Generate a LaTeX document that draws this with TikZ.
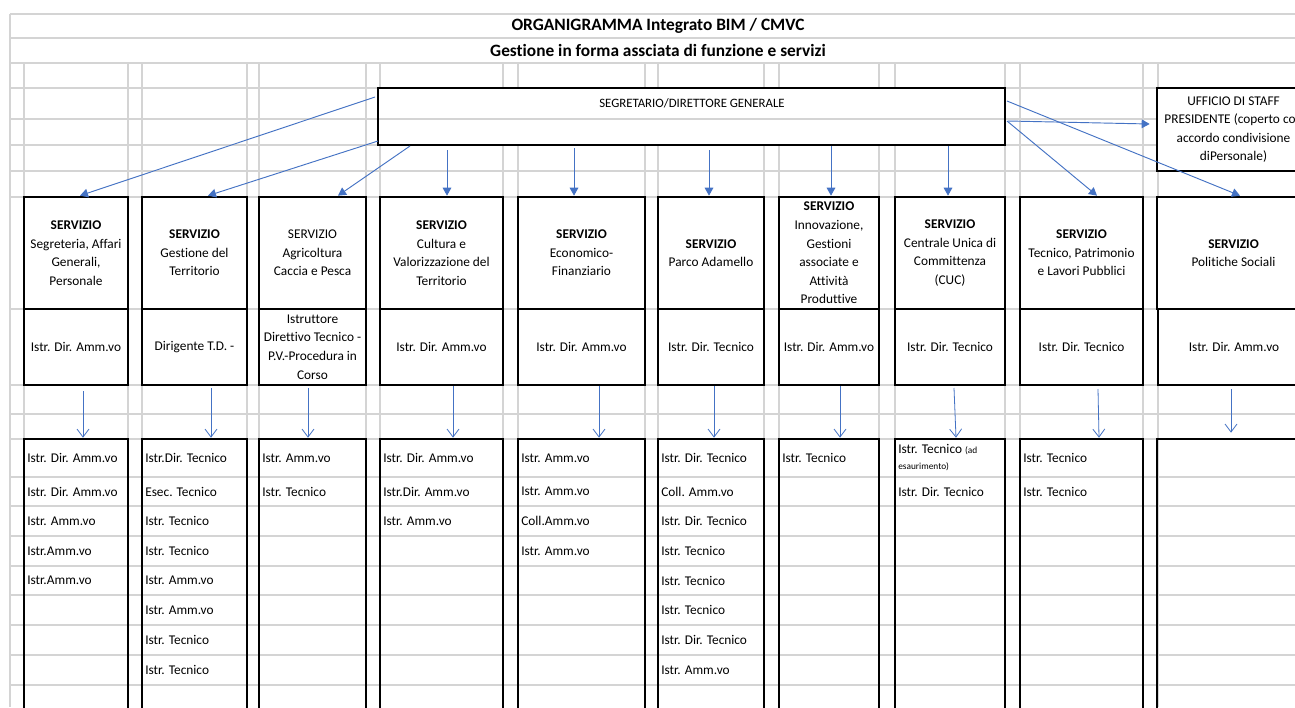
\documentclass[tikz,border=0pt]{standalone}
\usepackage{fontspec}
\setmainfont{Carlito}[Ligatures=NoCommon]
\usetikzlibrary{arrows.meta,calc}
\definecolor{gridc}{RGB}{212,212,212}
\definecolor{arr}{RGB}{68,114,196}
\newcommand\cellbox[7]{\node[#6,minimum width={(#4-#2)*0.75pt},minimum height={(#5-#3)*0.75pt}] (#1) at ({(#2+#4)/2},{(#3+#5)/2}) {#7};}
\newcommand\listcol[3]{%
  \foreach \t [count=\i] in {#3} {%
    \pgfmathsetmacro\yy{{458,491.5,521,551,580.5,610,640,670}[\i-1]}%
    \node[entry] (#1-\i) at (#2+3,\yy) {\t};
  }}
\begin{document}
\begin{tikzpicture}[x=0.75pt,y=-0.75pt,
  font=\fontsize{10}{13.9}\selectfont,
  gridline/.style={draw=gridc,line width=0.8pt},
  svcbox/.style={draw=black,line width=2pt,fill=white,inner sep=0pt,align=center},
  dirbox/.style={draw=black,line width=1.1pt,fill=white,inner sep=0pt,align=center},
  listbox/.style={draw=black,line width=2pt,inner sep=0pt},
  topbox/.style={draw=black,line width=1.6pt,fill=white,inner sep=0pt,align=center},
  entry/.style={anchor=west,inner sep=0pt},
  titletext/.style={font=\fontsize{13}{15}\selectfont\bfseries,inner sep=0pt},
  toparrow/.style={draw=arr,line width=0.7pt,-{Triangle[length=6pt,width=6.5pt]}},
  lowarrow/.style={draw=arr,line width=0.6pt,-{Straight Barb[length=6pt,width=9pt,line width=0.6pt]}}
]
\useasboundingbox (0,0) rectangle (1295,707);
\clip (0,0) rectangle (1295,707);
\fill[white] (0,0) rectangle (1295,707);
% grid
\foreach \y in {14,38,63,88,119,145,171,197,309,385,414,439,477,506,536,566,595,625,655,685}
  \draw[gridline] (10,\y) -- (1295,\y);
\draw[gridline] (10,14) -- (10,707);
\foreach \x in {24,128,142,247,259,366,380,503,518,645,658,764,779,879,895,1005,1020,1143,1158}
  \draw[gridline] (\x,63) -- (\x,707);
% titles
\node[titletext] (title) at (658,26) {ORGANIGRAMMA Integrato BIM / CMVC};
\node[titletext] (subtitle) at (658,50) {Gestione in forma assciata di funzione e servizi};
% top boxes
\cellbox{seg}{378}{88}{1005}{145}{topbox}{}
\draw[gridline] (379,119) -- (1004,119);
\node[inner sep=0pt,font=\fontsize{9.6}{12}\selectfont] (segT) at (692,103) {SEGRETARIO/DIRETTORE GENERALE};
\cellbox{uff}{1157}{88}{1310}{171}{svcbox}{UFFICIO DI STAFF\\PRESIDENTE (coperto con\\accordo condivisione\\diPersonale)}
% service boxes
\cellbox{s1}{24}{197}{128}{309}{svcbox}{\textbf{SERVIZIO}\\Segreteria, Affari\\Generali,\\Personale}
\cellbox{s2}{142}{197}{247}{309}{svcbox}{\textbf{SERVIZIO}\\Gestione del\\Territorio}
\cellbox{s3}{259}{197}{366}{309}{svcbox}{SERVIZIO\\Agricoltura\\Caccia e Pesca}
\cellbox{s4}{380}{197}{503}{309}{svcbox}{\textbf{SERVIZIO}\\Cultura e\\Valorizzazione del\\Territorio}
\cellbox{s5}{518}{197}{645}{309}{svcbox}{\textbf{SERVIZIO}\\Economico-\\Finanziario}
\cellbox{s6}{658}{197}{764}{309}{svcbox}{\textbf{SERVIZIO}\\Parco Adamello}
\cellbox{s7}{779}{197}{879}{309}{svcbox}{\textbf{SERVIZIO}\\Innovazione,\\Gestioni\\associate e\\Attività\\Produttive}
\cellbox{s8}{895}{197}{1005}{309}{svcbox}{\textbf{SERVIZIO}\\Centrale Unica di\\Committenza\\(CUC)}
\cellbox{s9}{1020}{197}{1143}{309}{svcbox}{\textbf{SERVIZIO}\\Tecnico, Patrimonio\\e Lavori Pubblici}
\cellbox{s10}{1157}{197}{1310}{309}{svcbox}{\textbf{SERVIZIO}\\Politiche Sociali}
% director row
\cellbox{d1}{24}{309}{128}{385}{dirbox}{Istr. Dir. Amm.vo}
\cellbox{d2}{142}{309}{247}{385}{dirbox}{Dirigente T.D. -}
\cellbox{d3}{259}{309}{366}{385}{dirbox}{Istruttore\\Direttivo Tecnico -\\P.V.-Procedura in\\Corso}
\cellbox{d4}{380}{309}{503}{385}{dirbox}{Istr. Dir. Amm.vo}
\cellbox{d5}{518}{309}{645}{385}{dirbox}{Istr. Dir. Amm.vo}
\cellbox{d6}{658}{309}{764}{385}{dirbox}{Istr. Dir. Tecnico}
\cellbox{d7}{779}{309}{879}{385}{dirbox}{Istr. Dir. Amm.vo}
\cellbox{d8}{895}{309}{1005}{385}{dirbox}{Istr. Dir. Tecnico}
\cellbox{d9}{1020}{309}{1143}{385}{dirbox}{Istr. Dir. Tecnico}
\cellbox{d10}{1158}{309}{1310}{385}{dirbox}{Istr. Dir. Amm.vo}
% list boxes
\cellbox{l1}{24}{439}{128}{725}{listbox}{}
\cellbox{l2}{142}{439}{247}{725}{listbox}{}
\cellbox{l3}{259}{439}{366}{725}{listbox}{}
\cellbox{l4}{380}{439}{503}{725}{listbox}{}
\cellbox{l5}{518}{439}{645}{725}{listbox}{}
\cellbox{l6}{658}{439}{764}{725}{listbox}{}
\cellbox{l7}{779}{439}{879}{725}{listbox}{}
\cellbox{l8}{895}{439}{1005}{725}{listbox}{}
\cellbox{l9}{1020}{439}{1143}{725}{listbox}{}
\cellbox{l10}{1157}{439}{1310}{725}{listbox}{}
% list entries
\listcol{e1}{24}{Istr. Dir. Amm.vo,Istr. Dir. Amm.vo,Istr. Amm.vo,Istr.Amm.vo,Istr.Amm.vo}
\listcol{e2}{142}{Istr.Dir. Tecnico,Esec. Tecnico,Istr. Tecnico,Istr. Tecnico,Istr. Amm.vo,Istr. Amm.vo,Istr. Tecnico,Istr. Tecnico}
\listcol{e3}{259}{Istr. Amm.vo,Istr. Tecnico}
\listcol{e4}{380}{Istr. Dir. Amm.vo,Istr.Dir. Amm.vo,Istr. Amm.vo}
\listcol{e5}{518}{Istr. Amm.vo,Istr. Amm.vo,Coll.Amm.vo,Istr. Amm.vo}
\listcol{e6}{658}{Istr. Dir. Tecnico,Coll. Amm.vo,Istr. Dir. Tecnico,Istr. Tecnico,Istr. Tecnico,Istr. Tecnico,Istr. Dir. Tecnico,Istr. Amm.vo}
\listcol{e7}{779}{Istr. Tecnico}
\node[entry,anchor=north west,align=left] (e8-1) at (898,444) {Istr. Tecnico {\fontsize{7}{8}\selectfont (ad}\\[-2pt]{\fontsize{7}{8}\selectfont esaurimento)}};
\node[entry] (e8-2) at (898,491.5) {Istr. Dir. Tecnico};
\listcol{e9}{1020}{Istr. Tecnico,Istr. Tecnico}
% top arrows
\coordinate (o1) at (375,97);
\coordinate (o2) at (378,141);
\coordinate (o3) at (410,146);
\coordinate (o4) at (447,150);
\coordinate (o5) at (574,148);
\coordinate (o6) at (709,150);
\coordinate (o7) at (831,146);
\coordinate (o8) at (948,146);
\coordinate (o9) at (1007,121);
\coordinate (o10) at (1007,101);
\coordinate (o11) at (1008,121);
\draw[toparrow] (o1) -- ($(s1.north)+(4,0)$);
\draw[toparrow] (o2) -- ($(s2.north)+(13.5,0)$);
\draw[toparrow] (o3) -- ($(s3.north)+(25.5,0)$);
\draw[toparrow] (o4) -- ($(s4.north)+(5.5,0)$);
\draw[toparrow] (o5) -- ($(s5.north)+(-7.5,0)$);
\draw[toparrow] (o6) -- ($(s6.north)+(-2,0)$);
\draw[toparrow] (o7) -- ($(s7.north)+(2,0)$);
\draw[toparrow] (o8) -- ($(s8.north)+(-2,0)$);
\draw[toparrow] (o9) -- ($(s9.north)+(15.5,0)$);
\draw[toparrow] (o10) -- ($(s10.north)+(6.5,0)$);
\draw[toparrow] (o11) -- ($(uff.west)+(-6,-5.5)$);
% lower arrows
\coordinate (p1) at (83,391);
\coordinate (p2) at (211,388);
\coordinate (p3) at (308,388);
\coordinate (p4) at (453,386);
\coordinate (p5) at (599,386);
\coordinate (p6) at (714,386);
\coordinate (p7) at (840,386);
\coordinate (p8) at (954,388);
\coordinate (p9) at (1098,389);
\coordinate (p10) at (1231,389);
\draw[lowarrow] (p1) -- (p1 |- l1.north);
\draw[lowarrow] (p2) -- (p2 |- l2.north);
\draw[lowarrow] (p3) -- (p3 |- l3.north);
\draw[lowarrow] (p4) -- (p4 |- l4.north);
\draw[lowarrow] (p5) -- (p5 |- l5.north);
\draw[lowarrow] (p6) -- (p6 |- l6.north);
\draw[lowarrow] (p7) -- (p7 |- l7.north);
\draw[lowarrow] (p8) -- ($(p8 |- l8.north)+(2,0)$);
\draw[lowarrow] (p9) -- ($(p9 |- l9.north)+(1,0)$);
\draw[lowarrow] (p10) -- ($(p10 |- l10.north)+(0,-5)$);
\end{tikzpicture}
\end{document}
